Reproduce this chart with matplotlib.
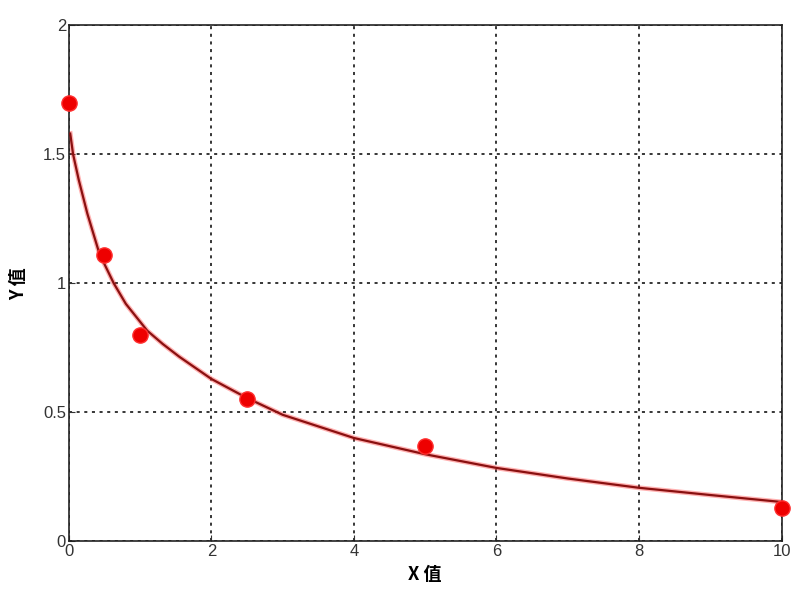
import matplotlib
matplotlib.use('Agg')
import matplotlib.pyplot as plt

# measured standards
x_pts = [0, 0.5, 1, 2.5, 5, 10]
y_pts = [1.70, 1.11, 0.80, 0.55, 0.37, 0.13]

# fitted curve
x_fit = [0.02, 0.06, 0.14, 0.26, 0.43, 0.63, 0.80, 1.1, 1.32, 1.55, 2.0, 2.5, 3.0, 4.0, 5.0, 6.0, 7.0, 8.0, 9.0, 10.0]
y_fit = [1.58, 1.50, 1.40, 1.27, 1.114, 1.00, 0.92, 0.816, 0.764, 0.715, 0.629, 0.555, 0.49, 0.40, 0.337, 0.284, 0.243, 0.207, 0.179, 0.152]

x_ticks = [0, 2, 4, 6, 8, 10]
y_ticks = [0, 0.5, 1, 1.5, 2]
y_tick_labels = ['0', '0.5', '1', '1.5', '2']


def main():
    plt.rcParams['font.family'] = ['Liberation Sans', 'Noto Sans CJK SC', 'DejaVu Sans']
    fig = plt.figure(figsize=(8, 6), dpi=100)
    ax = fig.add_axes([0.086, 0.098, 0.891, 0.86])

    ax.plot(x_fit, y_fit, color='#ff2020', lw=3.5, alpha=0.35, zorder=2,
            solid_joinstyle='round')
    ax.plot(x_fit, y_fit, color='#8a1010', lw=1.6, zorder=3,
            solid_joinstyle='round')
    ax.plot(x_pts, y_pts, 'o', color='#ee0000', markersize=11, zorder=4,
            markeredgecolor='#ff3030', clip_on=False)

    ax.set_xlim(0, 10)
    ax.set_ylim(0, 2)
    ax.set_xticks(x_ticks)
    ax.set_yticks(y_ticks)
    ax.set_yticklabels(y_tick_labels)
    ax.tick_params(direction='in', length=4, labelsize=12, colors='#333333', pad=2)
    ax.grid(True, color='black', linestyle=(0, (2, 3)), linewidth=1.1)
    for s in ax.spines.values():
        s.set_color('#222222')
        s.set_linewidth(1.2)

    ax.set_xlabel('X 值', fontsize=13, fontweight='bold',
                  family=['Noto Sans CJK SC', 'DejaVu Sans'], labelpad=4)
    ax.set_ylabel('Y 值', fontsize=13, fontweight='bold',
                  family=['Noto Sans CJK SC', 'DejaVu Sans'], labelpad=11)

    fig.savefig('out.png', dpi=100, facecolor='white')


if __name__ == '__main__':
    main()
